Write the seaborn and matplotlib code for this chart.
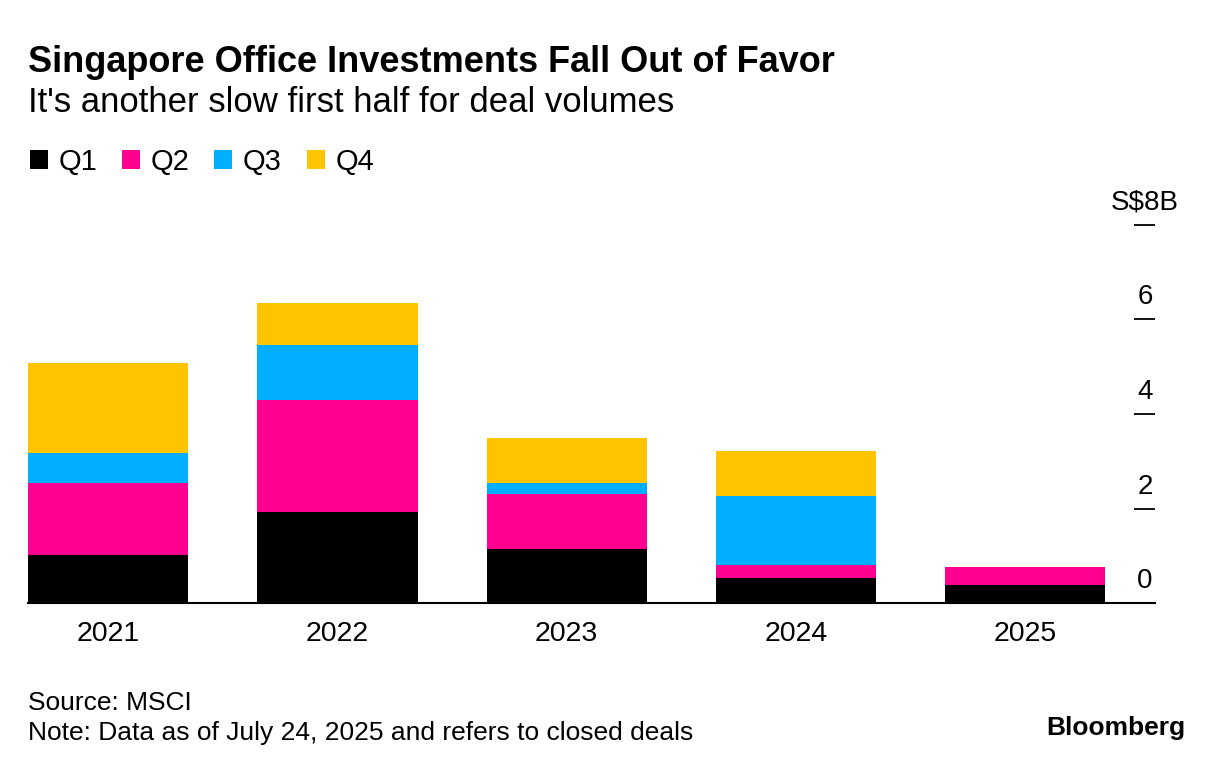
import matplotlib.pyplot as plt
import matplotlib.transforms as mtransforms
from matplotlib.patches import Patch
import numpy as np
import pandas as pd
import seaborn as sns

sns.set_theme(style="white")
plt.rcParams["font.family"] = ["Liberation Sans", "DejaVu Sans"]
plt.rcParams["text.color"] = "black"

years = ["2021", "2022", "2023", "2024", "2025"]
quarters = ["Q1", "Q2", "Q3", "Q4"]
q1 = [1.02, 1.93, 1.14, 0.53, 0.39]
q2 = [1.53, 2.37, 1.17, 0.27, 0.38]
q3 = [0.63, 1.17, 0.23, 1.46, np.nan]
q4 = [1.90, 0.87, 0.95, 0.95, np.nan]
colors = ["#000000", "#FF0090", "#00AEFF", "#FFC400"]
y_ticks = [0, 2, 4, 6, 8]
y_tick_labels = ["0", "2", "4", "6", "S$8B"]

df = pd.DataFrame({"year": years, "Q1": q1, "Q2": q2, "Q3": q3, "Q4": q4})
cum = df[quarters].cumsum(axis=1)

fig = plt.figure(figsize=(12.24, 7.72), dpi=100)
ax = fig.add_axes([28 / 1224, 169 / 772, (1155 - 28) / 1224, (603 - 225) / 772])

# stacked bars: draw cumulative totals from the top layer down
for q, c in reversed(list(zip(quarters, colors))):
    layer = pd.DataFrame({"year": years, "value": cum[q]}).dropna()
    sns.barplot(data=layer, x="year", y="value", order=years, color=c,
                saturation=1, width=0.7, errorbar=None, linewidth=0, ax=ax)

ax.set_xlim(-0.35, 4.566)
ax.set_ylim(0, 8)
ax.set_xlabel("")
ax.set_ylabel("")
for s in ["top", "left", "right"]:
    ax.spines[s].set_visible(False)
ax.spines["bottom"].set_color("black")
ax.spines["bottom"].set_linewidth(1.5)
ax.tick_params(axis="x", length=0, pad=13, labelsize=20.5, colors="black")

ax.yaxis.tick_right()
ax.set_yticks(y_ticks)
ax.set_yticklabels([])
ax.tick_params(axis="y", direction="in", length=15, width=1.3, colors="black", right=True)

lab_tr = mtransforms.offset_copy(
    mtransforms.blended_transform_factory(ax.transAxes, ax.transData),
    fig=fig, x=-10, y=15, units="dots")
for v, t in zip(y_ticks, y_tick_labels):
    ax.text(1.0, v, t, transform=lab_tr, ha="center", va="baseline",
            fontsize=20, color="black", clip_on=False)

fig.text(28 / 1224, 1 - 62 / 772, "Singapore Office Investments Fall Out of Favor",
         fontsize=26, fontweight="bold", va="center", ha="left")
fig.text(28 / 1224, 1 - 103 / 772, "It's another slow first half for deal volumes",
         fontsize=25, va="center", ha="left")

handles = [Patch(facecolor=c, edgecolor="none") for c in colors]
fig.legend(handles, quarters, loc="center left", bbox_to_anchor=(30 / 1224, 1 - 162 / 772),
           ncol=4, frameon=False, fontsize=21, handlelength=0.62, handleheight=0.62,
           handletextpad=0.36, columnspacing=0.85, borderaxespad=0, borderpad=0)

fig.text(28 / 1224, 1 - 703 / 772, "Source: MSCI", fontsize=19, va="center", ha="left")
fig.text(28 / 1224, 1 - 733 / 772, "Note: Data as of July 24, 2025 and refers to closed deals",
         fontsize=19, va="center", ha="left")
fig.text(1185 / 1224, 1 - 728 / 772, "Bloomberg", fontsize=19, fontweight="bold",
         va="center", ha="right")

fig.savefig("out.png", dpi=100)
